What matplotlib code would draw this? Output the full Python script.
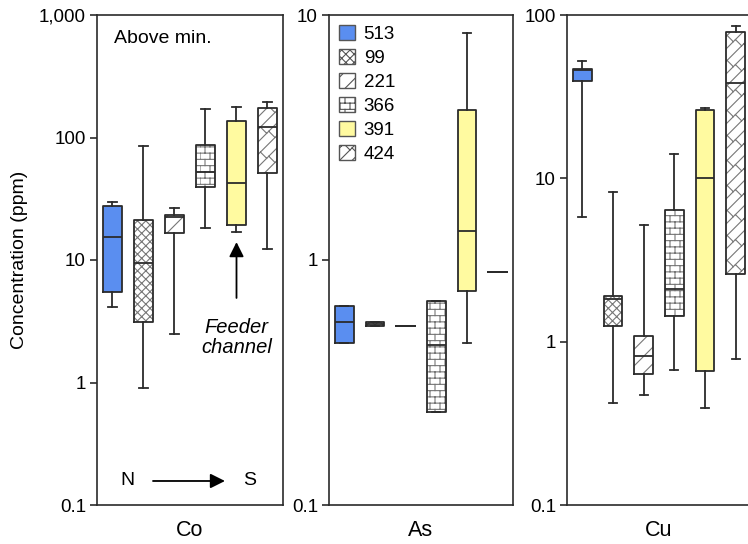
import numpy as np
import matplotlib
matplotlib.use("Agg")
import matplotlib.pyplot as plt
from matplotlib import hatch as mhatch
from matplotlib.path import Path
from matplotlib.patches import Patch
from matplotlib.ticker import NullLocator

# Data
sites = ["513", "99", "221", "366", "391", "424"]
face_colors = ["#5a8ef0", "white", "white", "white", "#fffaa0", "white"]
hatches = ["", "xxxx", "//", "o", "", "O"]  # 'o' = brick, 'O' = diagonal brick (custom)

# whisker low, Q1, median, Q3, whisker high
co_stats = [
    [4.1, 5.5, 15.4, 27.6, 29.7],
    [0.90, 3.1, 9.5, 21.2, 85.0],
    [2.5, 16.6, 22.4, 23.3, 26.6],
    [18.3, 39.5, 52.0, 87.0, 171.0],
    [16.8, 19.3, 42.3, 136.0, 178.0],
    [12.3, 51.0, 122.0, 174.0, 195.0],
]
as_stats = [
    [0.458, 0.458, 0.558, 0.649, 0.649],
    [0.54, 0.54, 0.55, 0.56, 0.56],
    [0.538, 0.538, 0.538, 0.538, 0.538],
    [0.240, 0.240, 0.450, 0.681, 0.681],
    [0.458, 0.746, 1.31, 4.09, 8.45],
    [0.893, 0.893, 0.893, 0.893, 0.893],
]
cu_stats = [
    [5.8, 39.4, 46.0, 46.7, 52.3],
    [0.421, 1.25, 1.82, 1.90, 8.24],
    [0.471, 0.634, 0.816, 1.08, 5.18],
    [0.670, 1.43, 2.10, 6.39, 14.1],
    [0.392, 0.66, 10.0, 26.3, 26.9],
    [0.782, 2.59, 38.3, 78.8, 85.8],
]

co_ticks = [0.1, 1, 10, 100, 1000]
co_labels = ["0.1", "1", "10", "100", "1,000"]
as_ticks = [0.1, 1, 10]
as_labels = ["0.1", "1", "10"]
cu_ticks = [0.1, 1, 10, 100]
cu_labels = ["0.1", "1", "10", "100"]

EDGE = "#2b2b2b"
HATCH_GRAY = "#777777"


# custom brick hatches (replace the circle hatches, which are not used here)
class BrickHatch(mhatch.HatchPatternBase):
    def __init__(self, hatch, density):
        rows, bricks = 16, 10
        segs = []
        if "o" in hatch:
            for i in range(rows):
                y = (i + 0.5) / rows
                segs.append([(-0.1, y), (1.1, y)])
            for i in range(-1, rows):
                y0, y1 = (i + 0.5) / rows, (i + 1.5) / rows
                for j in range(bricks):
                    x = (j + 0.5 * (i % 2)) / bricks
                    segs.append([(x, y0), (x, y1)])
        self.segs = np.array(segs, dtype=float).reshape(-1, 2)
        self.num_vertices = len(self.segs)

    def set_vertices_and_codes(self, vertices, codes):
        vertices[:] = self.segs
        codes[0::2] = Path.MOVETO
        codes[1::2] = Path.LINETO


class DiagBrickHatch(mhatch.HatchPatternBase):
    def __init__(self, hatch, density):
        n, m = 8, 6
        segs = []
        if "O" in hatch:
            for k in range(-n - 1, n + 2):
                c = k / n
                segs.append([(-0.2, -0.2 + c), (1.2, 1.2 + c)])
            d = 1 / (2 * n)
            for k in range(-n - 1, n + 1):
                c = k / n
                for j in range(-2 * m, 2 * m):
                    t = (j + 0.5 * (k % 2)) / m
                    p0 = (t, t + c)
                    p1 = (t - d, t + c + d)
                    if -0.2 < p0[0] < 1.2 and -0.2 < p0[1] < 1.2:
                        segs.append([p0, p1])
        self.segs = np.array(segs, dtype=float).reshape(-1, 2)
        self.num_vertices = len(self.segs)

    def set_vertices_and_codes(self, vertices, codes):
        vertices[:] = self.segs
        codes[0::2] = Path.MOVETO
        codes[1::2] = Path.LINETO


mhatch._hatch_types = [t for t in mhatch._hatch_types
                       if t not in (mhatch.SmallCircles, mhatch.LargeCircles)]
mhatch._hatch_types += [BrickHatch, DiagBrickHatch]

plt.rcParams["font.family"] = ["Liberation Sans", "DejaVu Sans"]
plt.rcParams["hatch.linewidth"] = 0.8


def draw_panel(ax, stats, ticks, labels, name):
    bstats = [dict(whislo=s[0], q1=s[1], med=s[2], q3=s[3], whishi=s[4]) for s in stats]
    pos = np.arange(1, len(stats) + 1)
    # hatched fills (hatch lines take the edge colour, so draw outlines separately)
    fills = ax.bxp(bstats, positions=pos, widths=0.6, patch_artist=True,
                   showfliers=False, showcaps=False,
                   whiskerprops=dict(visible=False),
                   medianprops=dict(visible=False))
    for box, fc, h in zip(fills["boxes"], face_colors, hatches):
        box.set_facecolor(fc)
        box.set_hatch(h)
        box.set_edgecolor(HATCH_GRAY)
        box.set_linewidth(0)
    lp = dict(color=EDGE, linewidth=1.3)
    ax.bxp(bstats, positions=pos, widths=0.6, showfliers=False, capwidths=0.26,
           boxprops=lp, whiskerprops=lp, capprops=lp, medianprops=lp)

    ax.set_yscale("log")
    ax.set_ylim(ticks[0], ticks[-1])
    ax.set_yticks(ticks)
    ax.set_yticklabels(labels)
    ax.yaxis.set_minor_locator(NullLocator())
    ax.set_xlim(0.5, len(stats) + 0.5)
    ax.set_xticks([])
    ax.tick_params(axis="y", direction="out", length=5, width=1.2,
                   labelsize=13.5, color=EDGE, pad=3)
    for sp in ax.spines.values():
        sp.set_color(EDGE)
        sp.set_linewidth(1.2)
    ax.set_xlabel(name, fontsize=15.5, labelpad=11)


fig = plt.figure(figsize=(7.48, 5.44), dpi=100)
W, H = 748, 544
bottom = (H - 505) / H
height = 490 / H
ax_co = fig.add_axes([97 / W, bottom, 186 / W, height])
ax_as = fig.add_axes([329 / W, bottom, 184 / W, height])
ax_cu = fig.add_axes([567 / W, bottom, 184 / W, height])

draw_panel(ax_co, co_stats, co_ticks, co_labels, "Co")
draw_panel(ax_as, as_stats, as_ticks, as_labels, "As")
draw_panel(ax_cu, cu_stats, cu_ticks, cu_labels, "Cu")

fig.text(20 / W, (H - 260) / H, "Concentration (ppm)", rotation=90,
         ha="center", va="center", fontsize=14)

# annotations on the Co panel
ax_co.text(0.09, 0.953, "Above min.", transform=ax_co.transAxes,
           fontsize=14, va="center", ha="left")
ax_co.annotate("", xy=(5, 14.0), xytext=(5, 4.9),
               arrowprops=dict(arrowstyle="-|>", color="black", lw=1.3,
                               mutation_scale=22, shrinkA=0, shrinkB=0))
ax_co.text(5, 3.35, "Feeder\nchannel", style="italic", fontsize=14.5,
           ha="center", va="top", linespacing=1.05)
ax_co.text(0.161, 0.049, "N", transform=ax_co.transAxes, fontsize=14,
           ha="center", va="center")
ax_co.text(0.823, 0.049, "S", transform=ax_co.transAxes, fontsize=14,
           ha="center", va="center")
ax_co.annotate("", xy=(0.688, 0.049), xytext=(0.301, 0.049),
               xycoords="axes fraction", textcoords="axes fraction",
               arrowprops=dict(arrowstyle="-|>", color="black", lw=1.3,
                               mutation_scale=22, shrinkA=0, shrinkB=0))

# legend in the As panel
handles = [Patch(facecolor=fc, hatch=h, edgecolor="#555555", linewidth=1.0)
           for fc, h in zip(face_colors, hatches)]
ax_as.legend(handles, sites, loc="upper left", frameon=False, fontsize=13.5,
             handlelength=0.85, handleheight=0.85, handletextpad=0.45,
             labelspacing=0.32, borderaxespad=0.4, borderpad=0.15)

fig.savefig("out.png", dpi=100)
